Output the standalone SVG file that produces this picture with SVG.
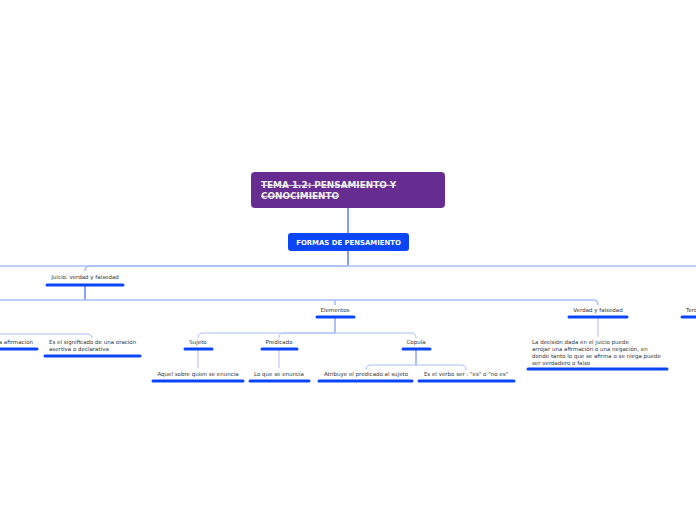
<svg xmlns="http://www.w3.org/2000/svg" width="696" height="520" viewBox="0 0 696 520">
<style>
.t{font-family:"DejaVu Sans",Verdana,sans-serif;font-size:5.5px;fill:#333}
.c{text-anchor:middle}
.u{stroke:#0a46f5;stroke-width:3;stroke-linecap:round;fill:none}
.bus{stroke:#a9bff7;stroke-width:1.6;fill:none}
.thin{stroke:#a9bff7;stroke-width:1;fill:none}
</style>
<rect width="696" height="520" fill="#ffffff"/>
<g id="connectors">
<path d="M348 208 V233" stroke="#2a5bf5" stroke-width="1.2" fill="none"/>
<path d="M348 251 V266" stroke="#2a5bf5" stroke-width="1.2" fill="none"/>
<path class="bus" d="M0 266 H696"/>
<path class="bus" d="M348 266 H90 Q85 266 85 271"/>
<path d="M85 286 V300" stroke="#5a7cf0" stroke-width="1.4" fill="none"/>
<path class="bus" d="M0 300 H593 Q598 300 598 305"/>
<path class="bus" d="M335 300 V305"/>
<path class="thin" d="M0 334 H87 Q92 334 92 338"/>
<path d="M335 318 V333" stroke="#5a7cf0" stroke-width="1" fill="none"/>
<path class="thin" d="M335 333 H203 Q198 333 198 338"/>
<path class="thin" d="M335 333 H284 Q279 333 279 338"/>
<path class="thin" d="M335 333 H411 Q416 333 416 338"/>
<path class="thin" d="M198 350 V368"/>
<path class="thin" d="M279 350 V368"/>
<path d="M416 350 V365" stroke="#5a7cf0" stroke-width="1" fill="none"/>
<path class="thin" d="M416 365 H371 Q366 365 366 370"/>
<path class="thin" d="M416 365 H461 Q466 365 466 370"/>
<path class="thin" d="M598 318 V337"/>
</g>
<g id="main">
<rect x="251" y="172" width="194" height="36" rx="4" fill="#672c8f"/>
<text x="261" y="188" font-family="DejaVu Sans,Verdana,sans-serif" font-weight="bold" font-size="8.9" fill="#f0f0f0" text-decoration="line-through">TEMA 1.2: PENSAMIENTO Y</text>
<text x="261" y="199" font-family="DejaVu Sans,Verdana,sans-serif" font-weight="bold" font-size="8.9" fill="#f0f0f0" text-decoration="line-through">CONOCIMIENTO</text>
</g>
<g id="formas">
<rect x="288" y="233" width="121" height="18" rx="3" fill="#0a46f5"/>
<text x="348.5" y="245" text-anchor="middle" font-family="DejaVu Sans,Verdana,sans-serif" font-weight="bold" font-size="6.9" fill="#ffffff">FORMAS DE PENSAMIENTO</text>
</g>
<g id="juicio">
<text class="t c" x="85" y="279">Juicio: verdad y falsedad</text>
<path class="u" d="M47 285 H123"/>
</g>
<g id="afirmacion">
<text class="t" x="33" y="344" text-anchor="end">a afirmación</text>
<path class="u" d="M-2 349 H37"/>
</g>
<g id="significado">
<text class="t" x="49" y="344">Es el significado de una oración</text>
<text class="t" x="49" y="351">asertiva o declarativa</text>
<path class="u" d="M45 356 H140"/>
</g>
<g id="elementos">
<text class="t c" x="335" y="312">Elementos</text>
<path class="u" d="M317 317 H354"/>
</g>
<g id="sujeto">
<text class="t c" x="198" y="344">Sujeto</text>
<path class="u" d="M185 349 H212"/>
</g>
<g id="predicado">
<text class="t c" x="279" y="344">Predicado</text>
<path class="u" d="M262 349 H297"/>
</g>
<g id="copula">
<text class="t c" x="416" y="344">Copula</text>
<path class="u" d="M403 349 H430"/>
</g>
<g id="aquel">
<text class="t c" x="198" y="376">Aquel sobre quien se enuncia</text>
<path class="u" d="M153 381 H243"/>
</g>
<g id="loque">
<text class="t c" x="279" y="376">Lo que se enuncia</text>
<path class="u" d="M250 381 H309"/>
</g>
<g id="atribuye">
<text class="t c" x="366" y="376">Atribuye el predicado al sujeto</text>
<path class="u" d="M319 381 H412"/>
</g>
<g id="verbo">
<text class="t c" x="466" y="376">Es el verbo ser : "es" o "no es"</text>
<path class="u" d="M419 381 H514"/>
</g>
<g id="verdad">
<text class="t c" x="598" y="312">Verdad y falsedad</text>
<path class="u" d="M569 317 H627"/>
</g>
<g id="decision">
<text class="t" x="532" y="344">La decisión dada en el juicio puede</text>
<text class="t" x="532" y="351">arrojar una afirmación o una negación, en</text>
<text class="t" x="532" y="358">donde tanto lo que se afirma o se niega puede</text>
<text class="t" x="532" y="365">ser verdadero o falso</text>
<path class="u" d="M528 369 H667"/>
</g>
<g id="tercer">
<text class="t" x="686" y="312">Terc</text>
<path class="u" d="M682 317 H698"/>
</g>
</svg>
